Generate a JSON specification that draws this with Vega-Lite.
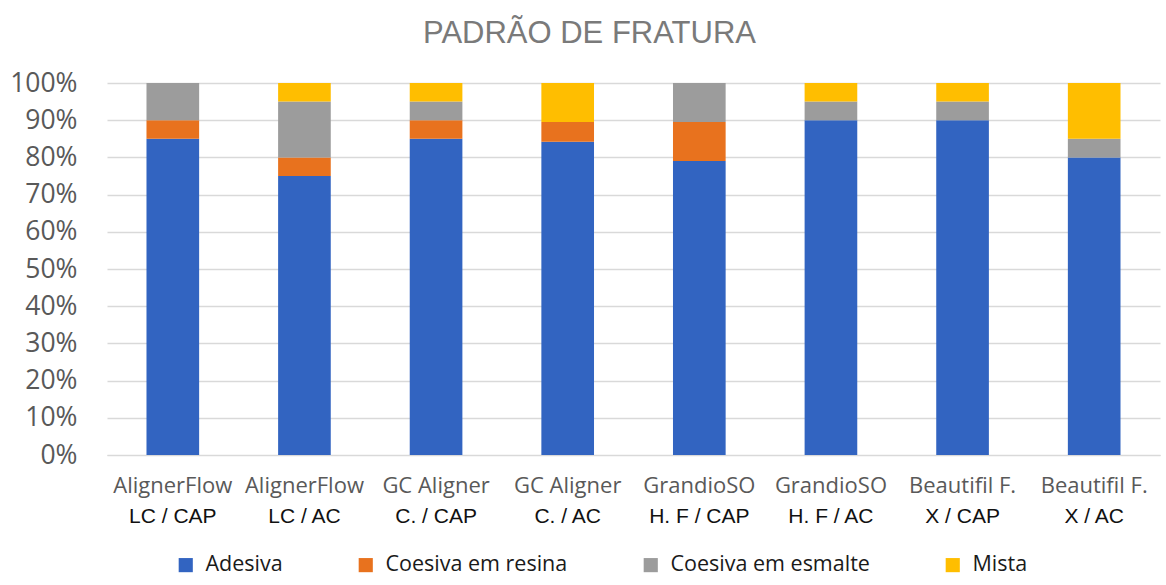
{
  "$schema": "https://vega.github.io/schema/vega-lite/v6.json",
  "width": 1053,
  "height": 372,
  "autosize": {"type": "none"},
  "padding": {"left": 107, "top": 83, "right": 6, "bottom": 130},
  "background": "white",
  "title": {
    "text": "PADRÃO DE FRATURA",
    "font": "Liberation Sans",
    "fontSize": 31,
    "fontWeight": "normal",
    "color": "#7a7a7a",
    "anchor": "middle",
    "dx": -44,
    "offset": 20
  },
  "data": {
    "values": [
      {"grupo": "AlignerFlow|LC / CAP", "tipo": "Adesiva", "ordem": 1, "valor": 0.85},
      {"grupo": "AlignerFlow|LC / CAP", "tipo": "Coesiva em resina", "ordem": 2, "valor": 0.05},
      {"grupo": "AlignerFlow|LC / CAP", "tipo": "Coesiva em esmalte", "ordem": 3, "valor": 0.10},
      {"grupo": "AlignerFlow|LC / CAP", "tipo": "Mista", "ordem": 4, "valor": 0.0},
      {"grupo": "AlignerFlow|LC / AC", "tipo": "Adesiva", "ordem": 1, "valor": 0.75},
      {"grupo": "AlignerFlow|LC / AC", "tipo": "Coesiva em resina", "ordem": 2, "valor": 0.05},
      {"grupo": "AlignerFlow|LC / AC", "tipo": "Coesiva em esmalte", "ordem": 3, "valor": 0.15},
      {"grupo": "AlignerFlow|LC / AC", "tipo": "Mista", "ordem": 4, "valor": 0.05},
      {"grupo": "GC Aligner|C. / CAP", "tipo": "Adesiva", "ordem": 1, "valor": 0.85},
      {"grupo": "GC Aligner|C. / CAP", "tipo": "Coesiva em resina", "ordem": 2, "valor": 0.05},
      {"grupo": "GC Aligner|C. / CAP", "tipo": "Coesiva em esmalte", "ordem": 3, "valor": 0.05},
      {"grupo": "GC Aligner|C. / CAP", "tipo": "Mista", "ordem": 4, "valor": 0.05},
      {"grupo": "GC Aligner|C. / AC", "tipo": "Adesiva", "ordem": 1, "valor": 0.842},
      {"grupo": "GC Aligner|C. / AC", "tipo": "Coesiva em resina", "ordem": 2, "valor": 0.053},
      {"grupo": "GC Aligner|C. / AC", "tipo": "Coesiva em esmalte", "ordem": 3, "valor": 0.0},
      {"grupo": "GC Aligner|C. / AC", "tipo": "Mista", "ordem": 4, "valor": 0.105},
      {"grupo": "GrandioSO|H. F / CAP", "tipo": "Adesiva", "ordem": 1, "valor": 0.79},
      {"grupo": "GrandioSO|H. F / CAP", "tipo": "Coesiva em resina", "ordem": 2, "valor": 0.105},
      {"grupo": "GrandioSO|H. F / CAP", "tipo": "Coesiva em esmalte", "ordem": 3, "valor": 0.105},
      {"grupo": "GrandioSO|H. F / CAP", "tipo": "Mista", "ordem": 4, "valor": 0.0},
      {"grupo": "GrandioSO|H. F / AC", "tipo": "Adesiva", "ordem": 1, "valor": 0.90},
      {"grupo": "GrandioSO|H. F / AC", "tipo": "Coesiva em resina", "ordem": 2, "valor": 0.0},
      {"grupo": "GrandioSO|H. F / AC", "tipo": "Coesiva em esmalte", "ordem": 3, "valor": 0.05},
      {"grupo": "GrandioSO|H. F / AC", "tipo": "Mista", "ordem": 4, "valor": 0.05},
      {"grupo": "Beautifil F.|X / CAP", "tipo": "Adesiva", "ordem": 1, "valor": 0.90},
      {"grupo": "Beautifil F.|X / CAP", "tipo": "Coesiva em resina", "ordem": 2, "valor": 0.0},
      {"grupo": "Beautifil F.|X / CAP", "tipo": "Coesiva em esmalte", "ordem": 3, "valor": 0.05},
      {"grupo": "Beautifil F.|X / CAP", "tipo": "Mista", "ordem": 4, "valor": 0.05},
      {"grupo": "Beautifil F.|X / AC", "tipo": "Adesiva", "ordem": 1, "valor": 0.80},
      {"grupo": "Beautifil F.|X / AC", "tipo": "Coesiva em resina", "ordem": 2, "valor": 0.0},
      {"grupo": "Beautifil F.|X / AC", "tipo": "Coesiva em esmalte", "ordem": 3, "valor": 0.05},
      {"grupo": "Beautifil F.|X / AC", "tipo": "Mista", "ordem": 4, "valor": 0.15}
    ]
  },
  "layer": [
    {
      "mark": {"type": "bar"},
      "encoding": {
        "x": {
          "field": "grupo",
          "type": "nominal",
          "sort": null,
          "scale": {"paddingInner": 0.6, "paddingOuter": 0.3},
          "axis": {
            "orient": "bottom",
            "title": null,
            "labelAngle": 0,
            "labelExpr": "split(datum.label, '|')[0]",
            "labelFont": "Open Sans",
            "labelFontSize": 22,
            "labelColor": "#595959",
            "labelPadding": 20,
            "labelLimit": 200,
            "labelOverlap": false,
            "ticks": false,
            "domain": true,
            "domainColor": "#d9d9d9",
            "grid": false
          }
        },
        "y": {
          "field": "valor",
          "type": "quantitative",
          "stack": true,
          "scale": {"domain": [0, 1]},
          "axis": {
            "title": null,
            "format": ".0%",
            "values": [0, 0.1, 0.2, 0.3, 0.4, 0.5, 0.6, 0.7, 0.8, 0.9, 1.0],
            "labelFont": "Open Sans",
            "labelFontSize": 26.5,
            "labelColor": "#595959",
            "labelPadding": 30,
            "ticks": false,
            "domain": false,
            "grid": true,
            "gridColor": "#d9d9d9",
            "gridWidth": 1.3
          }
        },
        "color": {
          "field": "tipo",
          "type": "nominal",
          "scale": {
            "domain": ["Adesiva", "Coesiva em resina", "Coesiva em esmalte", "Mista"],
            "range": ["#3264C1", "#E8721E", "#9C9C9C", "#FFBE00"]
          },
          "legend": {
            "title": null,
            "orient": "none",
            "legendX": 68,
            "legendY": 471,
            "direction": "horizontal",
            "symbolType": "square",
            "symbolSize": 200,
            "symbolStrokeWidth": 0,
            "labelFont": "Open Sans",
            "labelFontSize": 21.5,
            "labelColor": "#1a1a1a",
            "labelLimit": 400,
            "columnPadding": 72,
            "labelOffset": 9
          }
        },
        "order": {"field": "ordem", "type": "quantitative"}
      }
    },
    {
      "mark": {"type": "rule", "strokeOpacity": 0},
      "encoding": {
        "x": {
          "field": "grupo",
          "type": "nominal",
          "sort": null,
          "axis": {
            "orient": "bottom",
            "title": null,
            "labelAngle": 0,
            "labelExpr": "split(datum.label, '|')[1]",
            "labelFont": "Liberation Sans",
            "labelFontSize": 21,
            "labelColor": "#111111",
            "labelPadding": 50,
            "labelLimit": 200,
            "labelOverlap": false,
            "ticks": false,
            "domain": false,
            "grid": false
          }
        }
      }
    }
  ],
  "resolve": {"axis": {"x": "independent"}},
  "config": {"view": {"stroke": null}}
}
